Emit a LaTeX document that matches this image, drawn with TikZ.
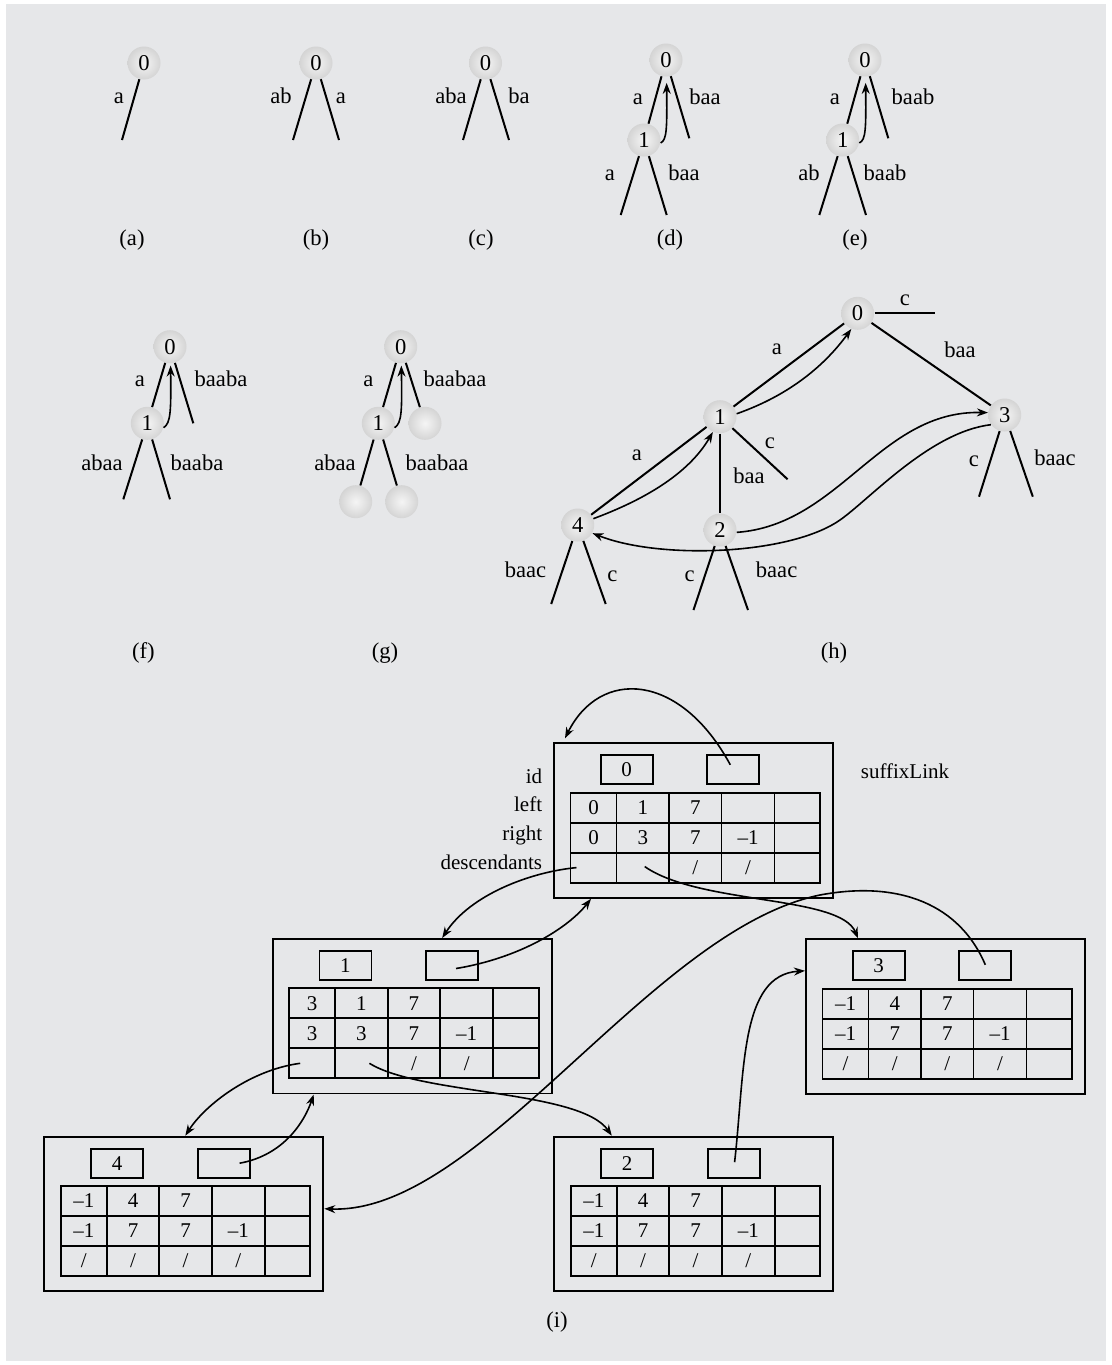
\documentclass[tikz,border=0pt]{standalone}
\usepackage{fontspec}
\setmainfont{Liberation Serif}
\usetikzlibrary{arrows.meta,calc}
\definecolor{bgc}{HTML}{E6E7E9}
\pgfdeclareradialshading{sphere}{\pgfpoint{0bp}{0bp}}{color(0bp)=(white!96!black); color(12bp)=(white!90!black); color(35bp)=(white!78!black); color(50bp)=(white!66!black); color(100bp)=(white!66!black)}
\newcommand\fsz{\fontsize{11.3pt}{13pt}\selectfont}
\newcommand\fsy{\fontsize{10.5pt}{12.5pt}\selectfont}
\newcommand\dsbox[4]{%
  \node[outerbox] (#1) at (#2,#3) {};
  \node[smallbox] (#1id) at ($(#1.north west)+(46.7,12)$) {#4};
  \node[smallbox] (#1sl) at ($(#1.north west)+(153.3,12)$) {};
}
\newcommand\dsrow[8]{%
  \node[cell, minimum width=23pt]    (#1r#2c1) at ($(#1.north west)+(16.5,49.3+#3)$) {#4};
  \node[cell, minimum width=26.25pt] (#1r#2c2) at ($(#1.north west)+(62.5,49.3+#3)$) {#5};
  \node[cell, minimum width=26.25pt] (#1r#2c3) at ($(#1.north west)+(115,49.3+#3)$) {#6};
  \node[cell, minimum width=26.5pt]  (#1r#2c4) at ($(#1.north west)+(167.5,49.3+#3)$) {#7};
  \node[cell, minimum width=22.75pt] (#1r#2c5) at ($(#1.north west)+(220.5,49.3+#3)$) {#8};
}
\begin{document}
\begin{tikzpicture}[x=0.5pt,y=-0.5pt, font=\fsz,
  ball/.style={circle, inner sep=0pt, minimum size=16.5pt, shade, shading=sphere},
  tline/.style={line width=1pt},
  lab/.style={anchor=base, inner sep=0pt},
  ilab/.style={anchor=base, inner sep=0pt, font=\fsy},
  slink/.style={line width=0.8pt, -{Stealth[length=5.5pt,width=4pt]}},
  outerbox/.style={draw, line width=0.9pt, minimum width=139.5pt, minimum height=77.25pt, inner sep=0pt, outer sep=0pt, anchor=north west},
  smallbox/.style={draw, line width=0.9pt, minimum width=26pt, minimum height=14.5pt, inner sep=0pt, outer sep=0pt, anchor=north west, font=\fsy},
  cell/.style={draw, line width=0.9pt, minimum height=15pt, inner sep=0pt, outer sep=0pt, anchor=north west, font=\fsy}]
\useasboundingbox (0,0) rectangle (1112,1365);
\fill[bgc] (6,4) rectangle (1106,1361);

% (a)
\node[ball] (a0) at (144,63) {0};
\coordinate (aL) at (122,140);
\draw[tline] (a0) -- (aL);
\node[lab] (aLa) at (119,103.5) {a};
\node[lab] (acap) at (132,245) {(a)};

% (b)
\node[ball] (b0) at (316,63) {0};
\coordinate (bL) at (293,140); \coordinate (bR) at (339,140);
\draw[tline] (b0) -- (bL); \draw[tline] (b0) -- (bR);
\node[lab] (bLa) at (281,103.5) {ab};
\node[lab] (bRa) at (341,103.5) {a};
\node[lab] (bcap) at (316,245) {(b)};

% (c)
\node[ball] (c0) at (485.5,63) {0};
\coordinate (cL) at (463,140); \coordinate (cR) at (509,140);
\draw[tline] (c0) -- (cL); \draw[tline] (c0) -- (cR);
\node[lab] (cLa) at (451,103.5) {aba};
\node[lab] (cRa) at (519,103.5) {ba};
\node[lab] (ccap) at (481,245) {(c)};

% (d)
\node[ball] (d0) at (666,60) {0};
\node[ball] (d1) at (644,140) {1};
\coordinate (dR) at (689.3,138.3);
\coordinate (d1L) at (620.7,215); \coordinate (d1R) at (666.7,215);
\draw[tline] (d0) -- (d1); \draw[tline] (d0) -- (dR);
\draw[tline] (d1) -- (d1L); \draw[tline] (d1) -- (d1R);
\draw[slink, shorten >=3pt] (d1.-10) .. controls (667,140) and (667,128) .. (d0.-88);
\node[lab] (dla) at (638,104) {a};
\node[lab] (dlb) at (705,104) {baa};
\node[lab] (dlc) at (610,180.5) {a};
\node[lab] (dld) at (684,180.5) {baa};
\node[lab] (dcap) at (670,245) {(d)};

% (e)
\node[ball] (e0) at (865,60) {0};
\node[ball] (e1) at (842.7,140) {1};
\coordinate (eR) at (888.3,138.3);
\coordinate (e1L) at (819.3,215); \coordinate (e1R) at (866,215);
\draw[tline] (e0) -- (e1); \draw[tline] (e0) -- (eR);
\draw[tline] (e1) -- (e1L); \draw[tline] (e1) -- (e1R);
\draw[slink, shorten >=3pt] (e1.-10) .. controls (866,140) and (866,128) .. (e0.-88);
\node[lab] (ela) at (835,104) {a};
\node[lab] (elb) at (913,104) {baab};
\node[lab] (elc) at (809,180.5) {ab};
\node[lab] (eld) at (885,180.5) {baab};
\node[lab] (ecap) at (855,245) {(e)};

% (f)
\node[ball] (f0) at (170,346.7) {0};
\node[ball] (f1) at (147.3,423.3) {1};
\coordinate (fR) at (193.3,423.3);
\coordinate (f1L) at (123.3,499.3); \coordinate (f1R) at (170,499.3);
\draw[tline] (f0) -- (f1); \draw[tline] (f0) -- (fR);
\draw[tline] (f1) -- (f1L); \draw[tline] (f1) -- (f1R);
\draw[slink, shorten >=1pt] (f1.-15) .. controls (171,423) and (171,410) .. (f0.-88);
\node[lab] (fla) at (140,386.5) {a};
\node[lab] (flb) at (221,386.5) {baaba};
\node[lab] (flc) at (102,470) {abaa};
\node[lab] (fld) at (197,470) {baaba};
\node[lab] (fcap) at (143.3,658) {(f)};

% (g)
\node[ball] (g0) at (400.7,346.7) {0};
\node[ball] (g1) at (378.3,423.3) {1};
\node[ball] (gR) at (425,423.3) {};
\node[ball] (g1L) at (355.7,501.7) {};
\node[ball] (g1R) at (401.7,501.7) {};
\draw[tline] (g0) -- (g1); \draw[tline] (g0) -- (gR);
\draw[tline] (g1) -- (g1L); \draw[tline] (g1) -- (g1R);
\draw[slink, shorten >=1pt] (g1.-15) .. controls (402,423) and (402,410) .. (g0.-88);
\node[lab] (gla) at (368.3,386.5) {a};
\node[lab] (glb) at (455,386.5) {baabaa};
\node[lab] (glc) at (335,470) {abaa};
\node[lab] (gld) at (437,470) {baabaa};
\node[lab] (gcap) at (385,658) {(g)};

% (h)
\node[ball] (h0) at (857.6,313.3) {0};
\node[ball] (h1) at (720,416.7) {1};
\node[ball] (h3) at (1004.7,415) {3};
\node[ball] (h4) at (577.7,525) {4};
\node[ball] (h2) at (720,530) {2};
\coordinate (h0c) at (934.7,313.3);
\coordinate (h1c) at (787.6,479.3);
\coordinate (h3L) at (979,496.7); \coordinate (h3R) at (1032.8,496.7);
\coordinate (h4L) at (551.2,604); \coordinate (h4R) at (605.7,604);
\coordinate (h2L) at (693.5,610); \coordinate (h2R) at (748,610);
\draw[tline] (h0) -- (h0c);
\draw[tline] (h0) -- (h1); \draw[tline] (h0) -- (h3);
\draw[tline] (h1) -- (h4); \draw[tline] (h1) -- (h2); \draw[tline] (h1) -- (h1c);
\draw[tline] (h3) -- (h3L); \draw[tline] (h3) -- (h3R);
\draw[tline] (h4) -- (h4L); \draw[tline] (h4) -- (h4R);
\draw[tline] (h2) -- (h2L); \draw[tline] (h2) -- (h2R);
\draw[slink] (h1.10) .. controls (790,395) and (825,365) .. (h0.248);
\draw[slink] (h4.22) .. controls (630,505) and (685,480) .. (h1.245);
\draw[slink] (h2.-8) .. controls (840,525) and (880,410) .. (h3.172);
\draw[slink] (h3.215) .. controls (930,432) and (870,499) .. (840,520) .. controls (790,555) and (660,560) .. (h4.-29);
\node[lab] (hla) at (905,305) {c};
\node[lab] (hlb) at (777,354) {a};
\node[lab] (hlc) at (960,357) {baa};
\node[lab] (hld) at (637,460) {a};
\node[lab] (hle) at (770,448) {c};
\node[lab] (hlf) at (749,483) {baa};
\node[lab] (hlg) at (974,466.7) {c};
\node[lab] (hlh) at (1055,465) {baac};
\node[lab] (hli) at (525.5,577) {baac};
\node[lab] (hlj) at (612.5,581.7) {c};
\node[lab] (hlk) at (689.6,581.7) {c};
\node[lab] (hll) at (776.6,577) {baac};
\node[lab] (hcap) at (834,658) {(h)};

% (i)
\dsbox{B0}{554}{743.3}{0}
\dsrow{B0}{1}{0}{0}{1}{7}{}{}
\dsrow{B0}{2}{30}{0}{3}{7}{–1}{}
\dsrow{B0}{3}{60}{}{}{/}{/}{}
\dsbox{B1}{272.7}{939}{1}
\dsrow{B1}{1}{0}{3}{1}{7}{}{}
\dsrow{B1}{2}{30}{3}{3}{7}{–1}{}
\dsrow{B1}{3}{60}{}{}{/}{/}{}
\dsbox{B3}{806}{939.3}{3}
\dsrow{B3}{1}{0}{–1}{4}{7}{}{}
\dsrow{B3}{2}{30}{–1}{7}{7}{–1}{}
\dsrow{B3}{3}{60}{/}{/}{/}{/}{}
\dsbox{B4}{44.3}{1136.7}{4}
\dsrow{B4}{1}{0}{–1}{4}{7}{}{}
\dsrow{B4}{2}{30}{–1}{7}{7}{–1}{}
\dsrow{B4}{3}{60}{/}{/}{/}{/}{}
\dsbox{B2}{554.3}{1136.7}{2}
\dsrow{B2}{1}{0}{–1}{4}{7}{}{}
\dsrow{B2}{2}{30}{–1}{7}{7}{–1}{}
\dsrow{B2}{3}{60}{/}{/}{/}{/}{}

\node[ilab, anchor=base east] (tid) at (542.5,783.3) {id};
\node[ilab, anchor=base east] (tleft) at (542.5,811.7) {left};
\node[ilab, anchor=base east] (tright) at (542.5,840) {right};
\node[ilab, anchor=base east] (tdesc) at (542.5,869.3) {descendants};
\node[ilab] (tsl) at (905,778) {suffixLink};
\node[lab] (icap) at (557,1327) {(i)};

\draw[slink] ($(B0sl.center)+(-3,-5)$) .. controls (680,672) and (600,668) .. ($(B0.north west)+(11,-5)$);
\draw[slink] ($(B0r3c1.west)+(6,0)$) .. controls (530,872) and (470,895) .. ($(B1.north west)+(169.5,-1)$);
\draw[slink] ($(B0r3c2.center)+(2,-1)$) .. controls (700,905) and (840,895) .. ($(B3.north west)+(52,-1)$);
\draw[slink] ($(B1sl.center)+(4,3)$) .. controls (520,958) and (568,928) .. ($(B0.south west)+(37,1)$);
\draw[slink] ($(B1r3c1.west)+(11,0)$) .. controls (250,1070) and (205,1105) .. ($(B4.north west)+(141,-1)$);
\draw[slink] ($(B1r3c2.center)+(8,0)$) .. controls (420,1095) and (580,1090) .. ($(B2.north west)+(57.5,-1)$);
\draw[slink] ($(B4sl.center)+(16,0)$) .. controls (285,1155) and (305,1120) .. ($(B1.south west)+(41,1)$);
\draw[slink] ($(B2sl.center)+(1,-1)$) .. controls (745,1070) and (740,975) .. ($(B3.north west)+(-1,31.5)$);
\draw[slink] ($(B3sl.center)+(0,-1)$) .. controls (960,905) and (900,880) .. (820,895) .. controls (650,930) and (480,1215) .. ($(B4.north east)+(1,72)$);
\end{tikzpicture}
\end{document}
